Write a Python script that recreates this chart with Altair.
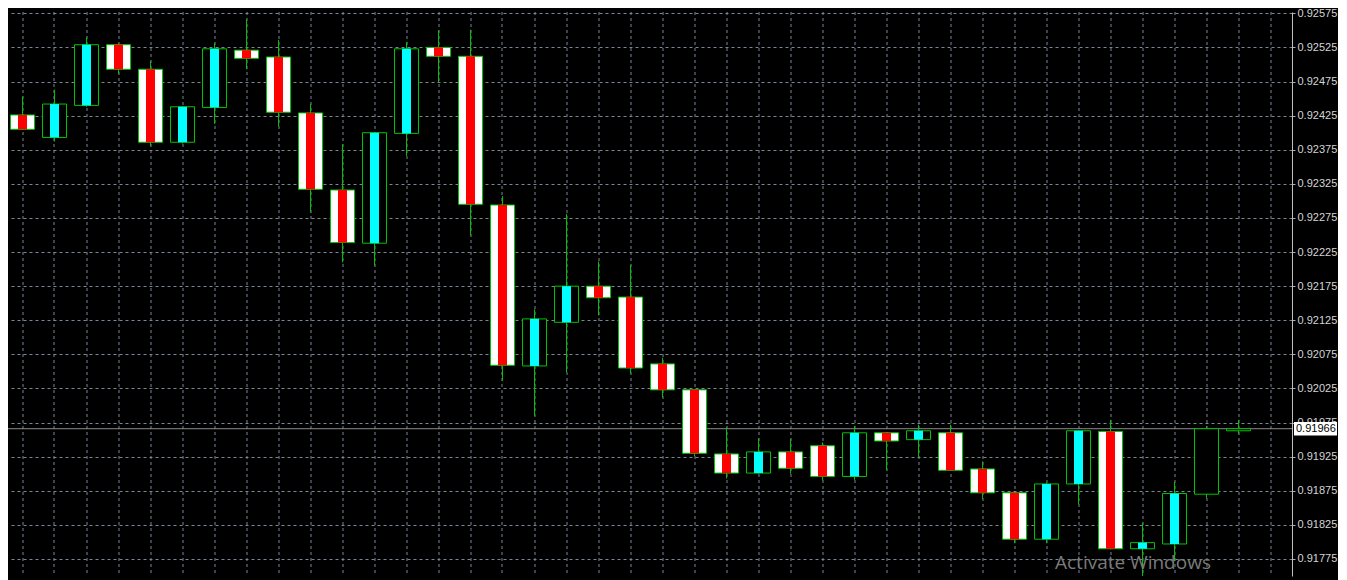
import altair as alt
import pandas as pd

# ---- data ----
bar_index = list(range(-1, 39))
open_ = [0.92461, 0.92426, 0.92393, 0.92440, 0.92529, 0.92493, 0.92386, 0.92437,
         0.92521, 0.92511, 0.92429, 0.92316, 0.92238, 0.92399, 0.92525, 0.92512,
         0.92294, 0.92058, 0.92122, 0.92175, 0.92159, 0.92061, 0.92023, 0.91929,
         0.91901, 0.91932, 0.91941, 0.91896, 0.91960, 0.91950, 0.91960, 0.91907,
         0.91872, 0.91804, 0.91885, 0.91962, 0.91790, 0.91797, 0.91870, 0.91963]
high = [0.92465, 0.92453, 0.92463, 0.92540, 0.92531, 0.92505, 0.92439, 0.92531,
        0.92566, 0.92536, 0.92442, 0.92383, 0.92401, 0.92533, 0.92550, 0.92551,
        0.92307, 0.92141, 0.92281, 0.92211, 0.92206, 0.92070, 0.92024, 0.91968,
        0.91952, 0.91951, 0.91946, 0.91970, 0.91961, 0.91972, 0.91972, 0.91918,
        0.91873, 0.91887, 0.91964, 0.91979, 0.91828, 0.91888, 0.91970, 0.91979]
low = [0.92428, 0.92404, 0.92387, 0.92438, 0.92486, 0.92380, 0.92384, 0.92413,
       0.92493, 0.92409, 0.92283, 0.92210, 0.92205, 0.92366, 0.92474, 0.92249,
       0.92036, 0.91985, 0.92049, 0.92132, 0.92047, 0.92012, 0.91926, 0.91893,
       0.91900, 0.91900, 0.91890, 0.91891, 0.91905, 0.91924, 0.91904, 0.91863,
       0.91798, 0.91798, 0.91855, 0.91789, 0.91741, 0.91772, 0.91864, 0.91958]
close = [0.92432, 0.92405, 0.92442, 0.92529, 0.92493, 0.92386, 0.92438, 0.92523,
         0.92509, 0.92430, 0.92317, 0.92239, 0.92400, 0.92523, 0.92512, 0.92295,
         0.92059, 0.92127, 0.92175, 0.92158, 0.92055, 0.92023, 0.91930, 0.91901,
         0.91932, 0.91908, 0.91896, 0.91960, 0.91948, 0.91963, 0.91905, 0.91872,
         0.91804, 0.91885, 0.91963, 0.91790, 0.91799, 0.91871, 0.91966, 0.91966]
price_ticks = [0.91775, 0.91825, 0.91875, 0.91925, 0.91975, 0.92025, 0.92075,
               0.92125, 0.92175, 0.92225, 0.92275, 0.92325, 0.92375, 0.92425,
               0.92475, 0.92525, 0.92575]
bar_grid = list(range(0, 40))
current_price = [0.91966]
last_indicator_bar = 36
watermark = ["Activate Windows"]

df = pd.DataFrame({"i": bar_index, "open": open_, "high": high,
                   "low": low, "close": close})
price_df = pd.DataFrame({"price": current_price})
wm_df = pd.DataFrame({"t": watermark})

W, H = 1284, 564
GREEN = "#00c400"
GRID = "#778899"

x_scale = alt.Scale(domain=[-0.453125, 39.671875], nice=False, zero=False)
y_scale = alt.Scale(domain=[0.9175006, 0.9257695], nice=False, zero=False)

x_axis = alt.Axis(values=bar_grid, labels=False, ticks=False, domain=False,
                  title=None, grid=True, gridColor=GRID, gridDash=[3, 3],
                  gridWidth=1, translate=0)
y_axis = alt.Axis(orient="right", values=price_ticks, format=".5f", title=None,
                  grid=True, gridColor=GRID, gridDash=[3, 3], gridWidth=1,
                  labelColor="#d4d4d4", labelFont="Liberation Sans",
                  labelFontSize=11, labelPadding=2, tickSize=3,
                  tickColor="#b0b0b0", domainColor="#c0c0c0", domainWidth=1)

base = alt.Chart(df).transform_calculate(
    bull="datum.close >= datum.open",
    xl="datum.i - 0.375",
    xr="datum.i + 0.375",
    sl="datum.i - 0.140625",
    sr="datum.i + 0.140625",
)

wicks = base.mark_rule(color=GREEN, strokeWidth=1, clip=True).encode(
    x=alt.X("i:Q", scale=x_scale, axis=x_axis),
    y=alt.Y("low:Q", scale=y_scale, axis=y_axis),
    y2="high:Q",
)

price_line = alt.Chart(price_df).mark_rule(color="#8c8c8c", strokeWidth=1).encode(
    y=alt.Y("price:Q", scale=y_scale, axis=y_axis),
)

bodies = base.mark_rect(stroke=GREEN, strokeWidth=1, clip=True).encode(
    x=alt.X("xl:Q", scale=x_scale, axis=x_axis),
    x2="xr:Q",
    y=alt.Y("open:Q", scale=y_scale, axis=y_axis),
    y2="close:Q",
    fill=alt.condition("datum.bull", alt.value("#000000"), alt.value("#ffffff")),
)

stripes = base.transform_filter(f"datum.i <= {last_indicator_bar}").mark_rect(clip=True).encode(
    x=alt.X("sl:Q", scale=x_scale, axis=x_axis),
    x2="sr:Q",
    y=alt.Y("open:Q", scale=y_scale, axis=y_axis),
    y2="close:Q",
    fill=alt.condition("datum.bull", alt.value("#00ffff"), alt.value("#ff0000")),
)

box = alt.Chart(price_df).transform_calculate(
    lo="datum.price - 0.0001", hi="datum.price + 0.0001"
).mark_rect(fill="#ffffff").encode(
    x=alt.value(W + 2),
    x2=alt.value(W + 45),
    y=alt.Y("lo:Q", scale=y_scale, axis=y_axis),
    y2="hi:Q",
)

box_text = alt.Chart(price_df).mark_text(
    align="left", baseline="middle", color="#000000",
    font="Liberation Sans", fontSize=11
).encode(
    x=alt.value(W + 4),
    y=alt.Y("price:Q", scale=y_scale, axis=y_axis),
    text=alt.Text("price:Q", format=".5f"),
)

wm = alt.Chart(wm_df).mark_text(
    align="left", baseline="alphabetic", color="#7a7a7a",
    font="Open Sans", fontSize=19
).encode(
    x=alt.value(1047),
    y=alt.value(557),
    text="t:N",
)

chart = alt.layer(price_line, wicks, bodies, stripes, box, box_text, wm).properties(
    width=W, height=H, background="#000000",
    autosize=alt.AutoSizeParams(type="none"),
    padding={"left": 0, "top": 4, "right": 46, "bottom": 4},
).configure_view(fill="#000000", stroke="#000000", strokeWidth=0)

chart.save("out.html", embed_options={"renderer": "svg", "actions": False})
